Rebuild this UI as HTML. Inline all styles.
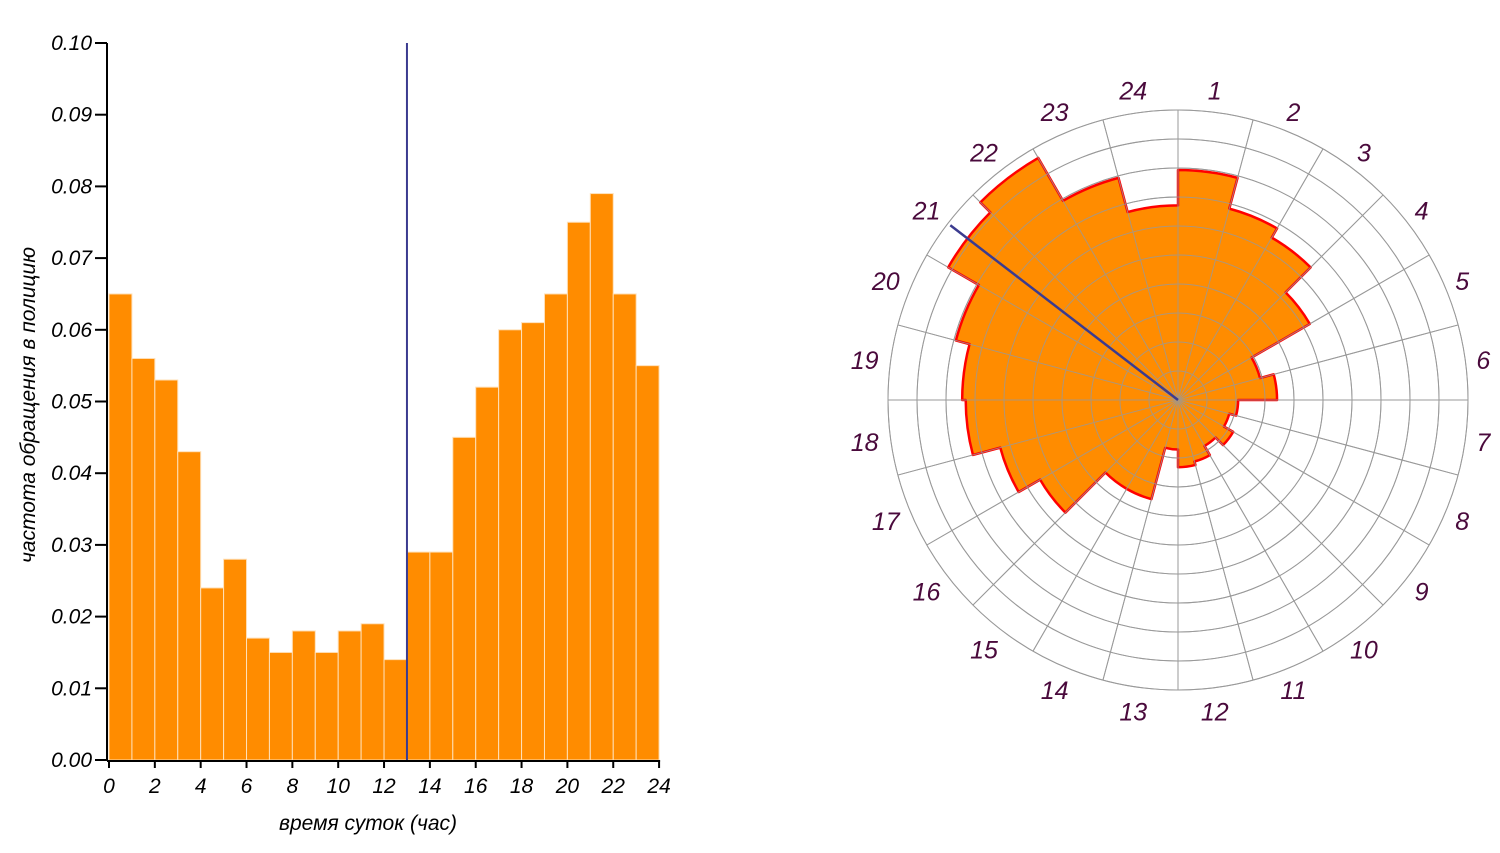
<!DOCTYPE html>
<html><head><meta charset="utf-8"><style>
body{margin:0;background:#fff;}
svg text{font-family:"Liberation Sans",sans-serif;font-style:italic;}
</style></head><body>
<svg id="c" width="1500" height="848" xmlns="http://www.w3.org/2000/svg"></svg>
<script>
const hours = [0,1,2,3,4,5,6,7,8,9,10,11,12,13,14,15,16,17,18,19,20,21,22,23];
const freq = [0.065,0.056,0.053,0.043,0.024,0.028,0.017,0.015,0.018,0.015,0.018,0.019,0.014,0.029,0.029,0.045,0.052,0.060,0.061,0.065,0.075,0.079,0.065,0.055];
const yTicks = [0,0.01,0.02,0.03,0.04,0.05,0.06,0.07,0.08,0.09,0.10];
const xTicks = [0,2,4,6,8,10,12,14,16,18,20,22,24];
const markerHour = 13;
const polarMarkerHour = 20.5;

const NS="http://www.w3.org/2000/svg";
const svg=document.getElementById('c');
function mk(t,a,p){const e=document.createElementNS(NS,t);for(const k in a)e.setAttribute(k,a[k]);(p||svg).appendChild(e);return e;}

// Left histogram
const x0=109,xw=22.92,y0=760,yk=7170;
const X=h=>x0+h*xw, Y=v=>y0-v*yk;
const gBars=mk('g',{});


hours.forEach((h,i)=>{
  const r=mk('rect',{x:X(h),y:Y(freq[i]),width:xw,height:y0-Y(freq[i]),fill:'#ff8c00',stroke:'#ffe0b8','stroke-width':1},gBars);
  
  
});
const ml=mk('line',{x1:X(markerHour),x2:X(markerHour),y1:Y(0.10),y2:y0,stroke:'#3b3b8f','stroke-width':2});


const ax=mk('g',{stroke:'#000','stroke-width':2,fill:'none'});


mk('line',{x1:107,x2:107,y1:Y(0.10),y2:y0+1},ax);
mk('line',{x1:107,x2:X(24)+1,y1:y0+1,y2:y0+1},ax);
yTicks.forEach(v=>{
  mk('line',{x1:95,x2:107,y1:Y(v),y2:Y(v)},ax);
  const t=mk('text',{x:92,y:Y(v)+7,'text-anchor':'end','font-size':21,fill:'#000'});
  t.textContent=v.toFixed(2);
  
  
});
xTicks.forEach(v=>{
  mk('line',{x1:X(v),x2:X(v),y1:y0,y2:y0+8},ax);
  const t=mk('text',{x:X(v),y:793,'text-anchor':'middle','font-size':21,fill:'#000'});
  t.textContent=v;
  
  
});
const xt=mk('text',{x:368,y:830,'text-anchor':'middle','font-size':21,fill:'#000'});
xt.textContent='время суток (час)';


const yt=mk('text',{x:0,y:0,'text-anchor':'middle','font-size':21,fill:'#000',transform:'translate(35,405) rotate(-90)'});
yt.textContent='частота обращения в полицию';



// Polar chart
const cx=1178,cy=400,R=290,rk=3538;
const P=(ang,r)=>[cx+r*Math.sin(ang*Math.PI/180),cy-r*Math.cos(ang*Math.PI/180)];
const grid=mk('g',{stroke:'#999','stroke-width':1,fill:'none'});


for(let i=1;i<=10;i++)mk('circle',{cx,cy,r:R*i/10},grid);
for(let i=0;i<24;i++){const p=P(i*15,R);mk('line',{x1:cx,y1:cy,x2:p[0],y2:p[1]},grid);}
let d='';
hours.forEach((h,i)=>{
  const r=freq[i]*rk,a1=h*15,a2=(h+1)*15;
  const p1=P(a1,r),p2=P(a2,r);
  d+=(i?'L':'M')+p1[0]+' '+p1[1]+' A'+r+' '+r+' 0 0 1 '+p2[0]+' '+p2[1]+' ';
});
d+='Z';
const area=mk('path',{d:d,fill:'#ff8c00',stroke:'#ff0000','stroke-width':2.5,'stroke-linejoin':'round'});


const grid2=mk('g',{stroke:'#999','stroke-width':1,fill:'none',opacity:0.8});


for(let i=1;i<=10;i++)mk('circle',{cx,cy,r:R*i/10},grid2);
for(let i=0;i<24;i++){const p=P(i*15,R);mk('line',{x1:cx,y1:cy,x2:p[0],y2:p[1]},grid2);}
const pm=P(polarMarkerHour*15,287);
const pl=mk('line',{x1:cx,y1:cy,x2:pm[0],y2:pm[1],stroke:'#3b3b8f','stroke-width':2.5});


hours.forEach(h=>{
  const a=(h+0.5)*15*Math.PI/180;
  const lx=cx-4+312*Math.sin(a), ly=cy-313*Math.cos(a);
  const t=mk('text',{x:lx,y:ly+10,'text-anchor':'middle','font-size':25,fill:'#4a0a3c'});
  t.textContent=h+1;
  
  
});
</script>
</body></html>
